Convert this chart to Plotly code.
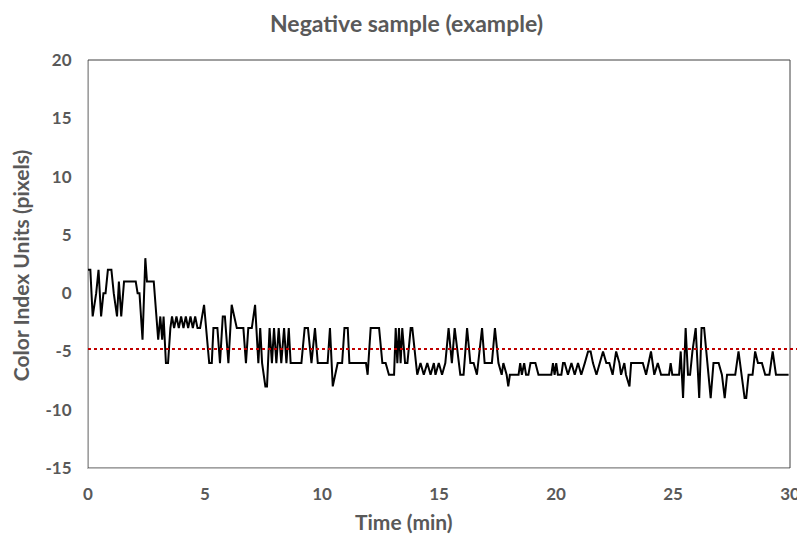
import plotly.graph_objects as go

# Time (min) and colour index values
time_min = [0.00, 0.10, 0.20, 0.35, 0.45, 0.56, 0.66, 0.75, 0.85, 1.00, 1.10, 1.24, 1.32, 1.42, 1.54, 2.04,
            2.12, 2.20, 2.33, 2.45, 2.52, 2.81, 3.00, 3.09, 3.17, 3.23, 3.33, 3.42, 3.52, 3.59, 3.68, 3.78,
            3.88, 3.98, 4.08, 4.18, 4.28, 4.38, 4.48, 4.58, 4.68, 4.79, 4.96, 5.05, 5.18, 5.29, 5.36, 5.53,
            5.64, 5.76, 5.85, 6.00, 6.14, 6.25, 6.36, 6.64, 6.75, 6.85, 7.00, 7.14, 7.28, 7.36, 7.44, 7.58,
            7.65, 7.76, 7.86, 7.95, 8.05, 8.15, 8.26, 8.38, 8.48, 8.58, 8.66, 9.12, 9.26, 9.40, 9.55, 9.70,
            9.82, 10.24, 10.34, 10.46, 10.57, 10.67, 10.86, 10.96, 11.10, 11.17, 11.88, 11.95, 12.08, 12.17,
            12.44, 12.58, 12.72, 12.86, 13.08, 13.15, 13.22, 13.29, 13.36, 13.43, 13.55, 13.65, 13.79, 13.86,
            14.07, 14.21, 14.35, 14.50, 14.64, 14.78, 14.85, 14.99, 15.13, 15.27, 15.41, 15.55, 15.67, 15.91,
            16.05, 16.20, 16.34, 16.48, 16.62, 16.84, 16.95, 17.26, 17.39, 17.54, 17.68, 17.75, 17.89, 17.96,
            18.03, 18.40, 18.47, 18.54, 18.64, 18.72, 18.82, 18.91, 19.12, 19.25, 19.40, 19.66, 19.80, 19.87,
            19.94, 20.01, 20.08, 20.23, 20.30, 20.37, 20.51, 20.66, 20.80, 20.94, 21.08, 21.23, 21.37, 21.48,
            21.58, 21.73, 21.87, 22.01, 22.15, 22.28, 22.42, 22.57, 22.71, 22.78, 22.92, 22.99, 23.14, 23.21,
            23.71, 23.85, 24.06, 24.20, 24.35, 24.49, 24.83, 24.90, 24.97, 25.26, 25.33, 25.43, 25.54, 25.64,
            25.73, 25.83, 25.97, 26.04, 26.12, 26.22, 26.33, 26.47, 26.61, 26.73, 26.95, 27.09, 27.21, 27.31,
            27.66, 27.80, 27.92, 28.06, 28.13, 28.23, 28.40, 28.51, 28.63, 28.80, 28.94, 29.12, 29.26, 29.40,
            29.94]
color_index = [2, 2, -2, 0, 2, -2, 0, 0, 2, 2, 0, -2, 1, -2, 1, 1,
               0, 0, -4, 3, 1, 1, -4, -2, -4, -2, -6, -6, -3, -2, -3, -2,
               -3, -2, -3, -2, -3, -2, -3, -2, -3, -3, -1, -3, -6, -6, -3, -3,
               -6, -2, -2, -6, -1, -2, -3, -3, -6, -3, -3, -1, -6, -3, -6, -8,
               -8, -3, -6, -3, -6, -3, -6, -3, -6, -3, -6, -6, -3, -3, -6, -3,
               -6, -6, -3, -8, -7, -6, -6, -3, -3, -6, -6, -7, -3, -3,
               -3, -6, -6, -7, -7, -3, -6, -3, -6, -3, -6, -6, -3, -3,
               -7, -6, -7, -6, -7, -6, -7, -6, -7, -6, -3, -6, -3, -7,
               -7, -3, -6, -6, -7, -3, -6, -6, -3, -6, -7, -6, -7, -8,
               -7, -7, -6, -7, -6, -7, -7, -6, -6, -7, -7, -7, -7, -6,
               -7, -6, -7, -7, -6, -6, -7, -6, -7, -6, -7, -6, -5, -5,
               -6, -7, -6, -5, -6, -6, -7, -5, -6, -7, -6, -7, -8, -6,
               -6, -7, -5, -7, -6, -7, -7, -6, -7, -7, -5, -9, -3, -7,
               -7, -5, -3, -6, -9, -3, -3, -6, -9, -6, -6, -7, -9, -7,
               -7, -5, -7, -9, -9, -7, -7, -5, -6, -6, -7, -7, -5, -7,
               -7]

threshold = -4.8
x_ticks = [0, 5, 10, 15, 20, 25, 30]
y_ticks = [-15, -10, -5, 0, 5, 10, 15, 20]

FONT = "Lato"
GREY = "#595959"

fig = go.Figure()
fig.add_trace(go.Scatter(x=time_min, y=color_index, mode="lines",
                         line=dict(color="black", width=2), showlegend=False))

# red dotted threshold line (extends slightly beyond the plot area, like the reference)
fig.add_shape(type="line", xref="paper", yref="y", x0=0, x1=1.014, y0=threshold, y1=threshold,
              line=dict(color="#C00000", width=2, dash="dot"))

# plot-area border
fig.add_shape(type="rect", xref="paper", yref="paper", x0=0, x1=1, y0=0, y1=1,
              line=dict(color="#404040", width=1), layer="below")

# axis titles as annotations for exact placement
fig.add_annotation(text="<b>Time (min)</b>", xref="paper", yref="paper", x=0.45, y=-0.132,
                   xanchor="center", yanchor="middle", showarrow=False,
                   font=dict(family=FONT, size=21, color=GREY))
fig.add_annotation(text="<b>Color Index Units (pixels)</b>", xref="paper", yref="paper", x=-0.097, y=0.497,
                   xanchor="center", yanchor="middle", showarrow=False, textangle=-90,
                   font=dict(family=FONT, size=21, color=GREY))

# the page body adds an 8px offset, so the figure is sized to fit the 805x538 window
fig.update_layout(
    width=797, height=530,
    margin=dict(l=80, r=15, t=52, b=70, autoexpand=False),
    paper_bgcolor="white", plot_bgcolor="white",
    font=dict(family=FONT, color=GREY, size=17),
    title=dict(text="<b>Negative sample (example)</b>", x=0.5, xref="container", xanchor="center",
               y=0.969, yref="container", yanchor="middle", font=dict(family=FONT, size=23, color=GREY)),
    xaxis=dict(range=[0, 30], tickvals=x_ticks, ticktext=[f"<b>{v}</b>" for v in x_ticks],
               showgrid=False, zeroline=False, showline=True, linecolor="#BFBFBF", linewidth=1,
               ticks="", ticklabelstandoff=11, automargin=False),
    yaxis=dict(range=[-15, 20], tickvals=y_ticks, ticktext=[f"<b>{v}</b>" for v in y_ticks],
               showgrid=False, zeroline=False, showline=True, linecolor="#BFBFBF", linewidth=1,
               ticks="", ticklabelstandoff=12, automargin=False),
)

fig.write_html("out.html")
